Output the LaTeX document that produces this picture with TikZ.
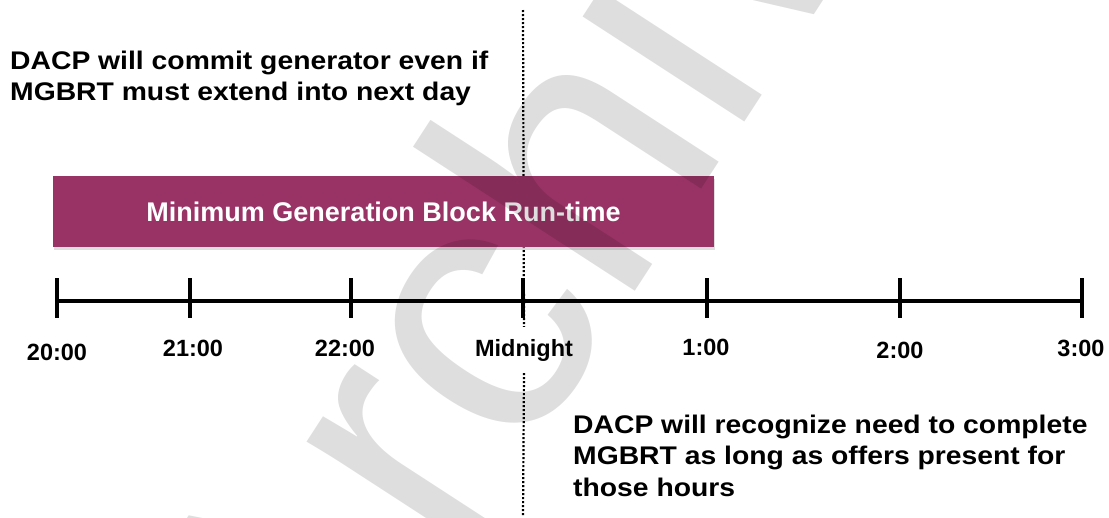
\documentclass[tikz,border=0pt]{standalone}
\usepackage{fontspec}
\setmainfont{Liberation Sans}
\newfontfamily\widesans[FakeStretch=1.11]{Liberation Sans}
\usepackage{tikz}
\usetikzlibrary{calc,                 % calculs de coordonnées
                positioning,          % placement relatif
                shadows}              % ombre sous le bloc
\definecolor{prune}{RGB}{153,51,102}
\tikzset{
  hour/.style={font=\fontsize{23.5}{26}\selectfont\bfseries, anchor=base, inner sep=12pt},
  hourtick/.style={line width=3.6pt},
  axisline/.style={line width=3.2pt},
  midline/.style={line width=2.2pt, dash pattern=on 2pt off 2pt},
  note/.style={font=\widesans\fontsize{25.5}{31.5}\selectfont\bfseries, align=left, inner sep=0, anchor=north west},
  runbox/.style={fill=prune, text=white, inner sep=0,
                 font=\fontsize{27}{30}\selectfont\bfseries,
                 drop shadow={shadow xshift=1pt, shadow yshift=-3pt, fill=black!25}}
}
\begin{document}
\begin{tikzpicture}[x=1pt,y=-1pt]
\useasboundingbox (0,0) rectangle (1109,517);
\clip (0,0) rectangle (1109,517);
\foreach \i/\x/\lx/\lb/\t in {0/57/57/360/20:00, 1/190/193/356/21:00, 2/351/345/356/22:00,
    3/523/524/356/Midnight, 4/707/706/355/1:00, 5/900/900/358/2:00, 6/1082/1081/356/3:00}{
  \coordinate (t\i) at (\x,301);
  \node[hour] (h\i) at (\lx,\lb) {\t};
}
\coordinate (mtop) at (523,10);
\coordinate (mbot) at (523,517);
\draw[midline] (mtop) -- (h3.north);
\draw[midline] (h3.south) -- (mbot);
\node[runbox, minimum width=661pt, minimum height=71pt] (run) at (383.5,211.5) {Minimum Generation Block Run-time};
\draw[axisline] (t0) -- (t6);
\foreach \i in {0,...,6}
  \draw[hourtick] ($(t\i)+(0,-23)$) -- ($(t\i)+(0,17)$);
\node[note] (commit) at (10,50.5) {DACP will commit generator even if\\MGBRT must extend into next day};
\node[note] (complete) at (573,414.5) {DACP will recognize need to complete\\MGBRT as long as offers present for\\those hours};
\node[rotate=57, text opacity=.13, font=\fontsize{365}{365}\selectfont] (archive) at (545,190) {Archive};
\end{tikzpicture}
\end{document}
